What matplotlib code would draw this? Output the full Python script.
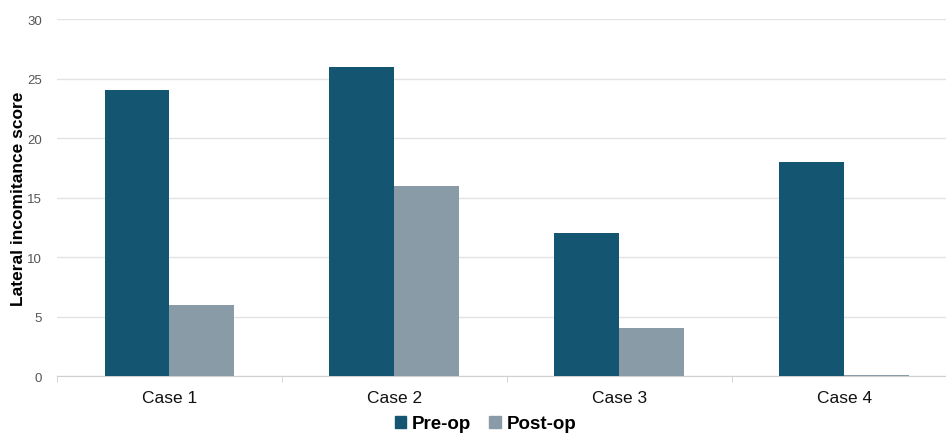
import numpy as np
import matplotlib.pyplot as plt
from matplotlib.patches import Patch

plt.rcParams['font.family'] = ['Liberation Sans', 'DejaVu Sans']

cases = ['Case 1', 'Case 2', 'Case 3', 'Case 4']
pre_op = [24, 26, 12, 18]
post_op = [6, 16, 4, 0.1]

pre_color = '#145572'
post_color = '#8a9ba8'

fig = plt.figure(figsize=(9.46, 4.35), dpi=100)
ax = fig.add_axes([0.0603, 0.1333, 0.951, 0.8207])

x = np.arange(len(cases))
w = 0.289
ax.bar(x - w / 2, pre_op, w, color=pre_color, zorder=3)
ax.bar(x + w / 2, post_op, w, color=post_color, zorder=3)

ax.set_xlim(-0.5, len(cases) - 0.5)
ax.set_ylim(0, 30)
ax.set_yticks(range(0, 31, 5))
ax.grid(axis='y', color='#e3e3e3', linewidth=1, zorder=0)

ax.set_xticks(x)
ax.set_xticklabels(cases, fontsize=12.5, color='#111111')
ax.set_xticks(np.arange(-0.5, len(cases)), minor=True)
ax.tick_params(axis='x', which='major', length=0, pad=10)
ax.tick_params(axis='x', which='minor', length=4, color='#d0d0d0')
ax.tick_params(axis='y', length=0, labelsize=9.5, labelcolor='#555555', pad=11)

for side in ['top', 'right', 'left']:
    ax.spines[side].set_visible(False)
ax.spines['bottom'].set_color('#d0d0d0')

ax.set_ylabel('Lateral incomitance score', fontsize=12.5, fontweight='bold')
ax.yaxis.set_label_coords(-0.034, 0.5)

handles = [Patch(color=pre_color, label='Pre-op'), Patch(color=post_color, label='Post-op')]
fig.legend(handles=handles, loc='lower center', bbox_to_anchor=(0.513, -0.035), ncol=2,
           frameon=False, prop={'weight': 'bold', 'size': 13.5},
           handlelength=0.6, handleheight=0.6, handletextpad=0.3, columnspacing=1.0)

fig.savefig('out.png', dpi=100)
